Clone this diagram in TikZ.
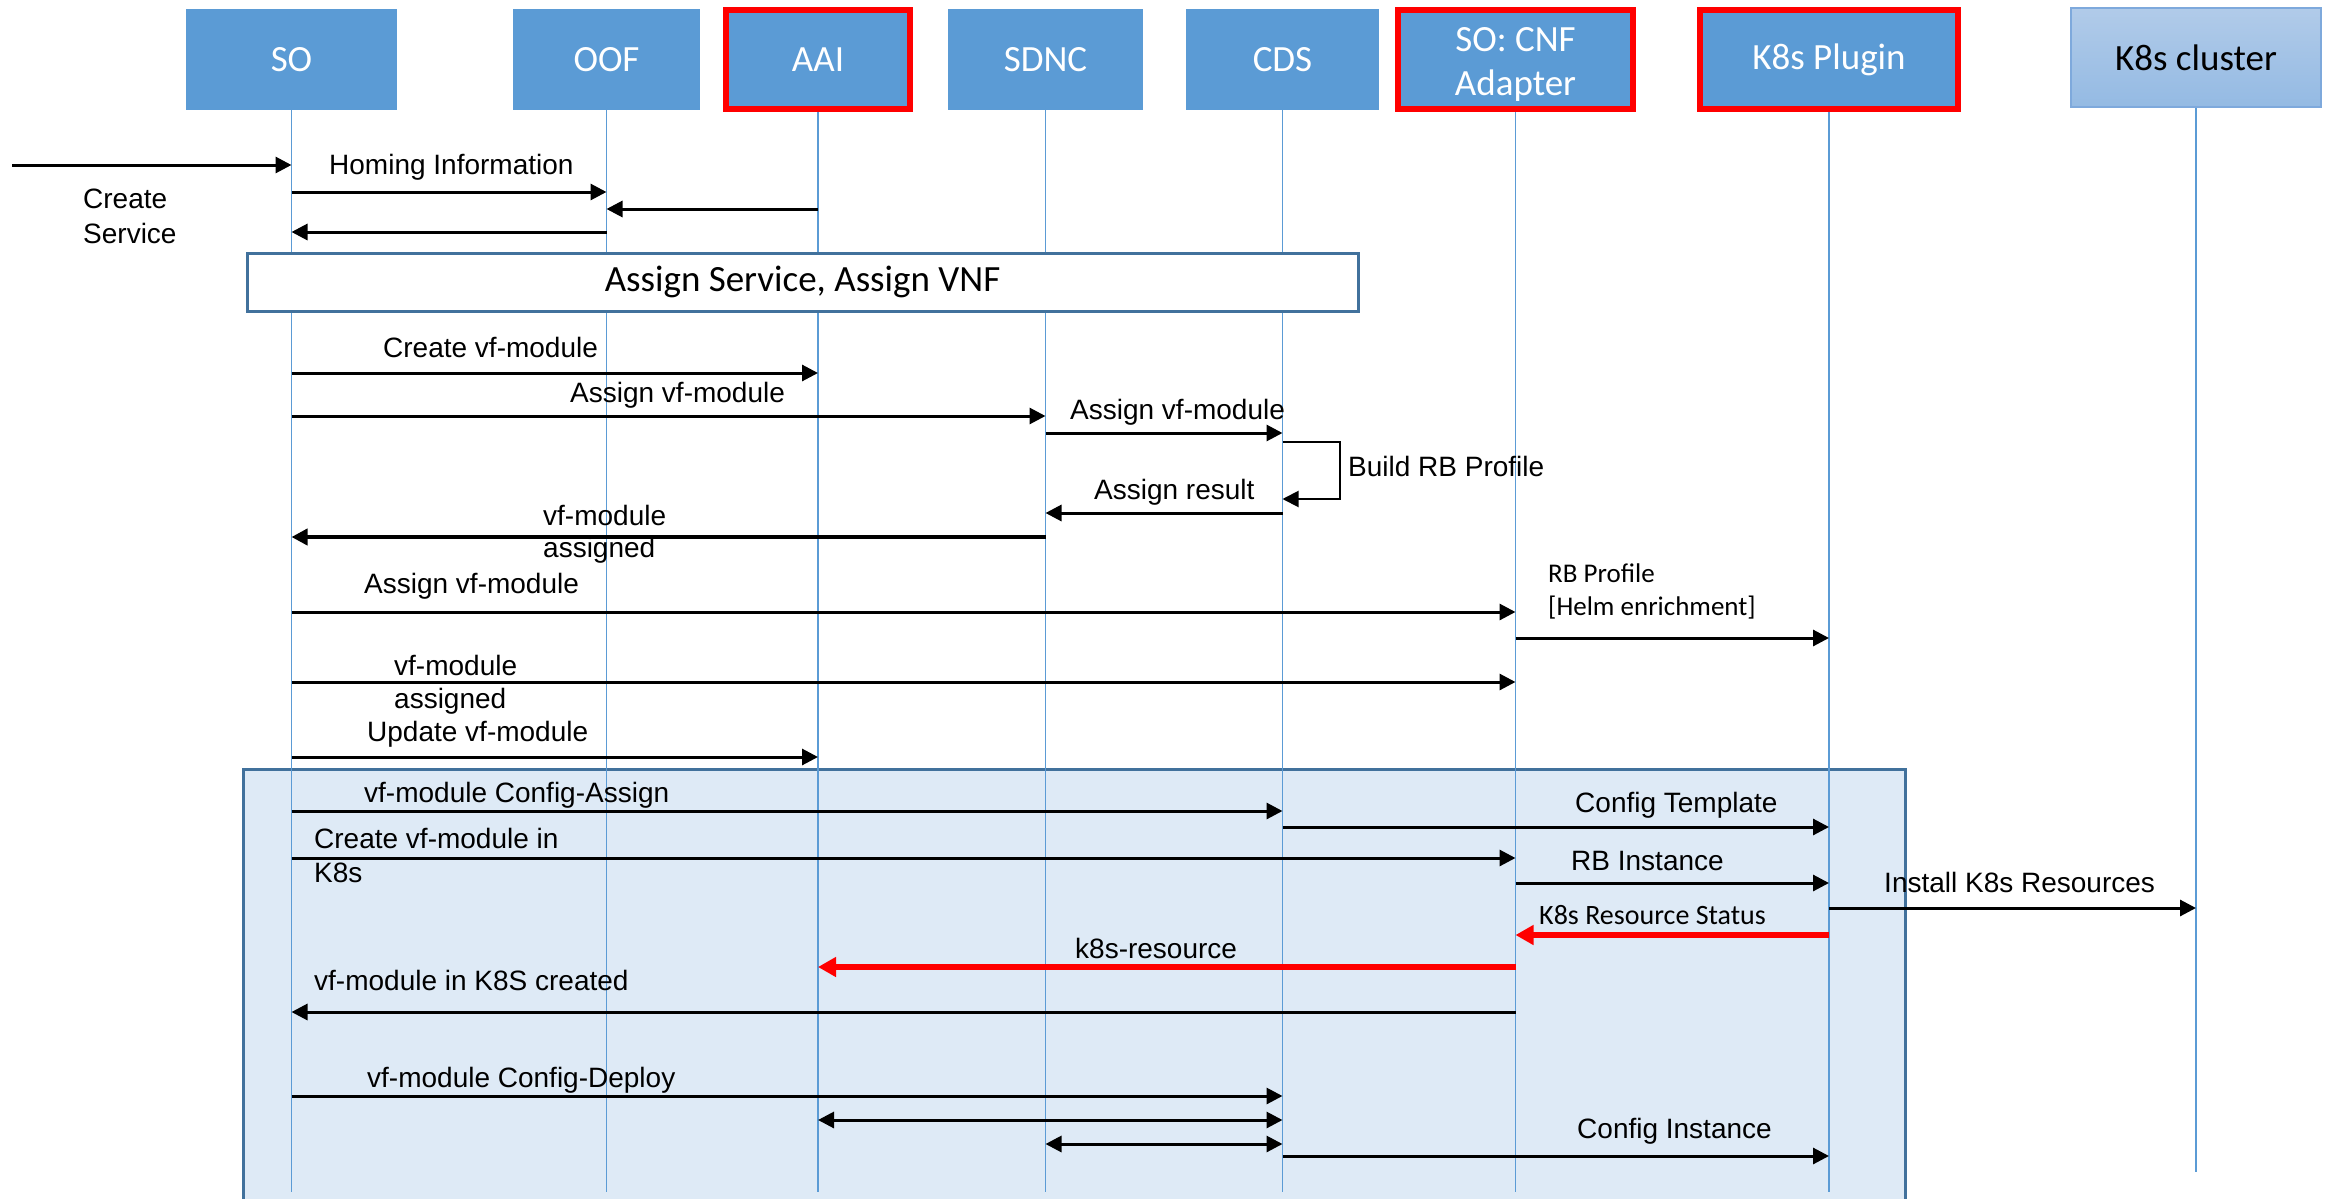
\documentclass[tikz,border=0pt]{standalone}
\usepackage{fontspec}
\setmainfont{Liberation Sans}
\newfontfamily\calibri{Carlito}
\usetikzlibrary{arrows.meta}
\definecolor{hdrblue}{HTML}{5B9BD5}
\definecolor{frameedge}{HTML}{41719C}
\definecolor{framefill}{HTML}{DEEAF6}
\definecolor{clustertop}{HTML}{B1CBE9}
\definecolor{clusterbot}{HTML}{94BAE3}
\definecolor{clusteredge}{HTML}{7EA9DC}

\begin{document}
\begin{tikzpicture}[x=1pt,y=-1pt,
    actor/.style={fill=hdrblue,text=white,inner sep=0pt,align=center,
      minimum height=101pt,font=\calibri\fontsize{37}{44}\selectfont},
    marked/.style={actor,draw=red,line width=6pt,minimum height=99pt},
    life/.style={draw=hdrblue,line width=1.5pt},
    msg/.style={line width=3pt,-{Triangle[length=16pt,width=16pt]}},
    both/.style={msg,{Triangle[length=16pt,width=16pt]}-{Triangle[length=16pt,width=16pt]}},
    redmsg/.style={draw=red,line width=6pt,-{Triangle[length=18pt,width=19pt]}},
    lbl/.style={anchor=base west,inner sep=0pt,align=left,font=\fontsize{28}{33}\selectfont},
    clbl/.style={lbl,font=\calibri\fontsize{28}{33}\selectfont}]
  \useasboundingbox (0,0) rectangle (2329,1199);

  % shaded CNF part
  \draw[fill=framefill,draw=frameedge,line width=3pt] (243,769) rectangle (1905,1215);

  % participants
  \node[actor,minimum width=211pt] (SO) at (291.5,59.5) {SO};
  \node[actor,minimum width=187pt] (OOF) at (606.5,59.5) {OOF};
  \node[marked,minimum width=184pt] (AAI) at (818,59.5) {AAI};
  \node[actor,minimum width=195pt] (SDNC) at (1045.5,59.5) {SDNC};
  \node[actor,minimum width=193pt] (CDS) at (1282.5,59.5) {CDS};
  \node[marked,minimum width=235pt] (CNF) at (1515.5,59.5) {\rule{0pt}{34pt}SO: CNF\\Adapter};
  \node[marked,minimum width=258pt] (K8sP) at (1829,59.5) {K8s Plugin};
  \node[actor,minimum width=250pt,minimum height=99pt,text=black,
    draw=clusteredge,line width=1.5pt,top color=clustertop,bottom color=clusterbot]
    (K8sC) at (2196,57.5) {K8s cluster};

  % lifelines
  \foreach \p in {SO,OOF,AAI,SDNC,CDS,CNF,K8sP}
    \draw[life] (\p.south) -- (\p |- 0,1192);
  \draw[life] (K8sC.south) -- (K8sC |- 0,1172);

  \node[draw=frameedge,fill=white,line width=3pt,minimum width=1111pt,minimum height=58pt,
    inner sep=0pt,font=\calibri\fontsize{37}{40}\selectfont] (assign) at (802.5,282)
    {Assign Service, Assign VNF};

  % homing
  \coordinate (entry) at (12,165);
  \draw[msg] (entry) -- (SO |- entry);
  \node[lbl,font=\fontsize{28}{35}\selectfont] (lCreateSvc) at (83,243) {Create\\Service};
  \node[lbl] (lHoming) at (329,174) {Homing Information};
  \draw[msg] (SO |- 0,192) -- (OOF |- 0,192);
  \draw[msg] (AAI |- 0,209) -- (OOF |- 0,209);
  \draw[msg] (OOF |- 0,232) -- (SO |- 0,232);

  % assign vf-module
  \node[lbl] (lCreateVf) at (383,357) {Create vf-module};
  \draw[msg] (SO |- 0,373) -- (AAI |- 0,373);
  \node[lbl] (lAssignVf) at (570,402) {Assign vf-module};
  \draw[msg] (SO |- 0,416) -- (SDNC |- 0,416);
  \node[lbl] (lAssignCds) at (1070,419) {Assign vf-module};
  \draw[msg] (SDNC |- 0,433) -- (CDS |- 0,433);
  \draw[line width=2pt,-{Triangle[length=16pt,width=16pt]}]
    (CDS |- 0,442) -- ++(57,0) |- (CDS |- 0,499);
  \node[lbl] (lBuild) at (1348,476) {Build RB Profile};
  \node[lbl] (lResult) at (1094,499) {Assign result};
  \draw[msg] (CDS |- 0,513) -- (SDNC |- 0,513);
  \node[lbl,font=\fontsize{28}{32}\selectfont] (lAssigned) at (543,557) {vf-module\\assigned};
  \draw[msg,line width=4.5pt] (SDNC |- 0,537) -- (SO |- 0,537);
  \node[lbl] (lAssignCnf) at (364,593) {Assign vf-module};
  \draw[msg] (SO |- 0,612) -- (CNF |- 0,612);
  \node[clbl,font=\calibri\fontsize{27}{33}\selectfont] (lProfile) at (1548,615)
    {RB Profile\\{}[Helm enrichment]};
  \draw[msg] (CNF |- 0,638) -- (K8sP |- 0,638);
  \node[lbl] (lAssignedCnf) at (394,708) {vf-module\\assigned};
  \draw[msg] (SO |- 0,682) -- (CNF |- 0,682);
  \node[lbl] (lUpdate) at (367,741) {Update vf-module};
  \draw[msg] (SO |- 0,757) -- (AAI |- 0,757);

  % k8s instantiation
  \node[lbl] (lCfgAssign) at (364,802) {vf-module Config-Assign};
  \draw[msg] (SO |- 0,811) -- (CDS |- 0,811);
  \node[lbl] (lTemplate) at (1575,812) {Config Template};
  \draw[msg] (CDS |- 0,827) -- (K8sP |- 0,827);
  \node[lbl,font=\fontsize{28}{34}\selectfont] (lCreateK8s) at (314,882) {Create vf-module in\\K8s};
  \draw[msg] (SO |- 0,858) -- (CNF |- 0,858);
  \node[lbl] (lInstance) at (1571,870) {RB Instance};
  \draw[msg] (CNF |- 0,883) -- (K8sP |- 0,883);
  \node[lbl] (lInstall) at (1884,892) {Install K8s Resources};
  \draw[msg] (K8sP |- 0,908) -- (K8sC |- 0,908);
  \node[clbl] (lStatus) at (1539,924) {K8s Resource Status};
  \draw[redmsg] (K8sP |- 0,935) -- (CNF |- 0,935);
  \node[lbl] (lResource) at (1075,958) {k8s-resource};
  \draw[redmsg] (CNF |- 0,967) -- (AAI |- 0,967);
  \node[lbl] (lCreated) at (314,990) {vf-module in K8S created};
  \draw[msg] (CNF |- 0,1012) -- (SO |- 0,1012);

  % config deploy
  \node[lbl] (lCfgDeploy) at (367,1087) {vf-module Config-Deploy};
  \draw[msg] (SO |- 0,1096) -- (CDS |- 0,1096);
  \draw[both] (AAI |- 0,1120) -- (CDS |- 0,1120);
  \draw[both] (SDNC |- 0,1144) -- (CDS |- 0,1144);
  \node[lbl] (lCfgInstance) at (1577,1138) {Config Instance};
  \draw[msg] (CDS |- 0,1156) -- (K8sP |- 0,1156);
\end{tikzpicture}
\end{document}
